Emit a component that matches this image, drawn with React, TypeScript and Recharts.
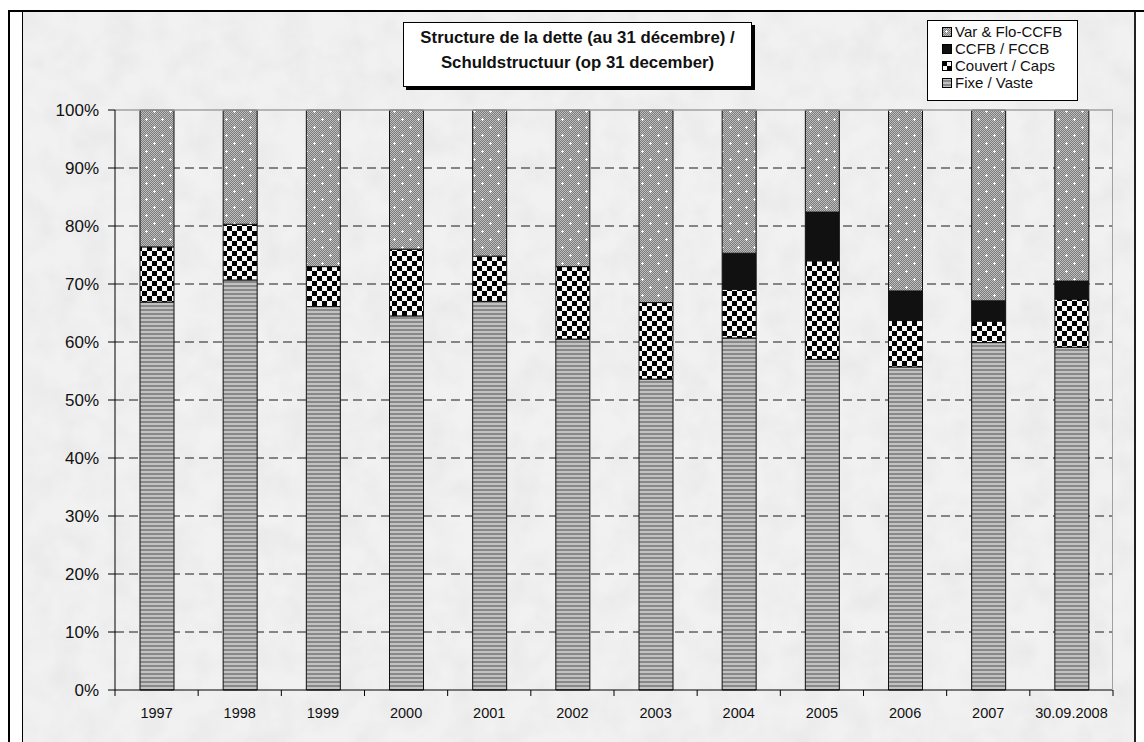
import React from "react";
import {
  BarChart,
  Bar,
  XAxis,
  YAxis,
  CartesianGrid,
  ReferenceLine,
} from "recharts";

// Structure de la dette / Schuldstructuur, in % of total
const years = ["1997", "1998", "1999", "2000", "2001", "2002", "2003", "2004", "2005", "2006", "2007", "30.09.2008"];
const fixe = [66.9, 70.7, 66.1, 64.5, 67.0, 60.5, 53.6, 60.7, 57.0, 55.7, 59.9, 59.1];
const couvert = [9.5, 9.6, 6.9, 11.5, 7.8, 12.5, 13.2, 8.4, 17.0, 8.0, 3.7, 8.3];
const ccfb = [0, 0, 0, 0, 0, 0, 0, 6.2, 8.4, 5.1, 3.5, 3.1];
const varFlo = [23.6, 19.7, 27.0, 24.0, 25.2, 27.0, 33.2, 24.7, 17.6, 31.2, 32.9, 29.5];
const yTicks = [0, 10, 20, 30, 40, 50, 60, 70, 80, 90, 100];
const gridValues = [10, 20, 30, 40, 50, 60, 70, 80, 90];

const data = years.map((year, i) => ({
  year,
  fixe: fixe[i],
  couvert: couvert[i],
  ccfb: ccfb[i],
  varFlo: varFlo[i],
}));

const FONT = '"Liberation Sans", Arial, sans-serif';
const PLOT_W = 998;
const STEP = PLOT_W / years.length;

const XTick = (props: any) => {
  const { x, y, payload } = props;
  const idx = payload?.index ?? props.index ?? 0;
  const left = x - STEP / 2;
  return (
    <g>
      <line x1={left} y1={y} x2={left} y2={y + 6} stroke="#000" />
      {idx === years.length - 1 && (
        <line x1={x + STEP / 2} y1={y} x2={x + STEP / 2} y2={y + 6} stroke="#000" />
      )}
      <text x={x} y={y + 28} textAnchor="middle" fontSize={14.5} fill="#111" fontFamily={FONT}>
        {payload.value}
      </text>
    </g>
  );
};

const Patterns = () => (
  <defs>
    <pattern id="dither" width="2" height="2" patternUnits="userSpaceOnUse">
      <rect width="2" height="2" fill="#bdbdbd" />
      <rect x="0" y="0" width="1" height="1" fill="#7c7c7c" />
      <rect x="1" y="1" width="1" height="1" fill="#7c7c7c" />
    </pattern>
    <pattern id="patVar" width="16" height="16" patternUnits="userSpaceOnUse">
      <rect width="16" height="16" fill="url(#dither)" />
      <rect x="3" y="4" width="3" height="1" fill="#fff" />
      <rect x="4" y="3" width="1" height="3" fill="#fff" />
      <rect x="11" y="12" width="3" height="1" fill="#fff" />
      <rect x="12" y="11" width="1" height="3" fill="#fff" />
    </pattern>
    <pattern id="patCouvert" width="10" height="10" patternUnits="userSpaceOnUse">
      <rect width="10" height="10" fill="#f6f6f6" />
      <rect x="0" y="0" width="5" height="5" fill="#000" />
      <rect x="5" y="5" width="5" height="5" fill="#000" />
    </pattern>
    <pattern id="patFixe" width="4" height="4" patternUnits="userSpaceOnUse">
      <rect width="4" height="4" fill="#c2c2c2" />
      <rect y="2" width="4" height="2" fill="#888" />
    </pattern>
    <filter id="mottle" x="0" y="0" width="100%" height="100%">
      <feTurbulence type="fractalNoise" baseFrequency="0.035" numOctaves="3" seed="4" />
      <feColorMatrix
        type="matrix"
        values="0 0 0 0 0.55  0 0 0 0 0.55  0 0 0 0 0.55  0.3 0 0 0 -0.1"
      />
    </filter>
  </defs>
);

const legendItems = [
  { label: "Var & Flo-CCFB", fill: "url(#patVar)" },
  { label: "CCFB / FCCB", fill: "#111" },
  { label: "Couvert / Caps", fill: "url(#patCouvert)" },
  { label: "Fixe / Vaste", fill: "url(#patFixe)" },
];

export default function App() {
  return (
    <div
      style={{
        position: "fixed",
        left: 0,
        top: 0,
        width: 1144,
        height: 742,
        overflow: "hidden",
        background: "#fff",
        fontFamily: FONT,
      }}
    >
      {/* outer frame */}
      <div style={{ position: "absolute", left: 8, top: 10, width: 1136, height: 2, background: "#000" }} />
      <div style={{ position: "absolute", left: 8, top: 10, width: 2, height: 732, background: "#000" }} />

      {/* chart box */}
      <div
        style={{
          position: "absolute",
          left: 22,
          top: 12,
          width: 1114,
          height: 740,
          boxSizing: "border-box",
          background: "#f1f1f1",
          borderLeft: "1px solid #000",
          borderRight: "2px solid #222",
        }}
      >
        <svg width={1111} height={740} style={{ position: "absolute", left: 0, top: 0 }}>
          <rect width={1111} height={740} filter="url(#mottle)" />
        </svg>
      </div>

      <div style={{ position: "absolute", left: 22, top: 11 }}>
        <BarChart
          width={1113}
          height={731}
          data={data}
          margin={{ top: 99, right: 22, bottom: 12, left: 13 }}
          barSize={34}
        >
          <Patterns />
          <CartesianGrid
            vertical={false}
            horizontalValues={gridValues}
            stroke="#1a1a1a"
            strokeDasharray="9 5"
          />
          <ReferenceLine y={100} stroke="#a0a0a0" strokeWidth={1.5} />
          <XAxis
            dataKey="year"
            axisLine={{ stroke: "#000" }}
            tickLine={false}
            tickSize={0}
            tickMargin={0}
            height={40}
            interval={0}
            tick={<XTick />}
          />
          <YAxis
            type="number"
            domain={[0, 100]}
            ticks={yTicks}
            interval={0}
            width={80}
            axisLine={{ stroke: "#000" }}
            tickLine={{ stroke: "#000" }}
            tickSize={7}
            tickMargin={9}
            tick={{ fill: "#111", fontSize: 17, fontFamily: FONT }}
            tickFormatter={(v) => `${v}%`}
          />
          <Bar dataKey="fixe" stackId="a" fill="url(#patFixe)" stroke="#111" strokeWidth={1} isAnimationActive={false} />
          <Bar dataKey="couvert" stackId="a" fill="url(#patCouvert)" stroke="#111" strokeWidth={1} isAnimationActive={false} />
          <Bar dataKey="ccfb" stackId="a" fill="#111" stroke="#111" strokeWidth={1} isAnimationActive={false} />
          <Bar dataKey="varFlo" stackId="a" fill="url(#patVar)" stroke="#111" strokeWidth={1} isAnimationActive={false} />
        </BarChart>
      </div>

      {/* plot area right border */}
      <div style={{ position: "absolute", left: 1112, top: 110, width: 1, height: 580, background: "#a0a0a0" }} />

      {/* title */}
      <div
        style={{
          position: "absolute",
          left: 403,
          top: 22,
          width: 349,
          height: 65,
          boxSizing: "border-box",
          background: "#fff",
          border: "1px solid #000",
          boxShadow: "3px 3px 0 #000",
          paddingTop: 2,
          textAlign: "center",
          fontWeight: "bold",
          fontSize: 16.8,
          lineHeight: "25px",
          color: "#111",
          whiteSpace: "nowrap",
        }}
      >
        Structure de la dette (au 31 décembre) /
        <br />
        Schuldstructuur (op 31 december)
      </div>

      {/* legend */}
      <div
        style={{
          position: "absolute",
          left: 927,
          top: 20,
          width: 151,
          height: 81,
          boxSizing: "border-box",
          background: "#fff",
          border: "1px solid #000",
          paddingTop: 2,
          paddingLeft: 14,
          fontSize: 15,
          color: "#111",
          whiteSpace: "nowrap",
        }}
      >
        {legendItems.map((item) => (
          <div key={item.label} style={{ display: "flex", alignItems: "center", height: 17 }}>
            <svg width={10} height={10} style={{ marginRight: 3 }}>
              <rect x={0.5} y={0.5} width={9} height={9} fill={item.fill} stroke="#000" />
            </svg>
            <span>{item.label}</span>
          </div>
        ))}
      </div>
    </div>
  );
}
